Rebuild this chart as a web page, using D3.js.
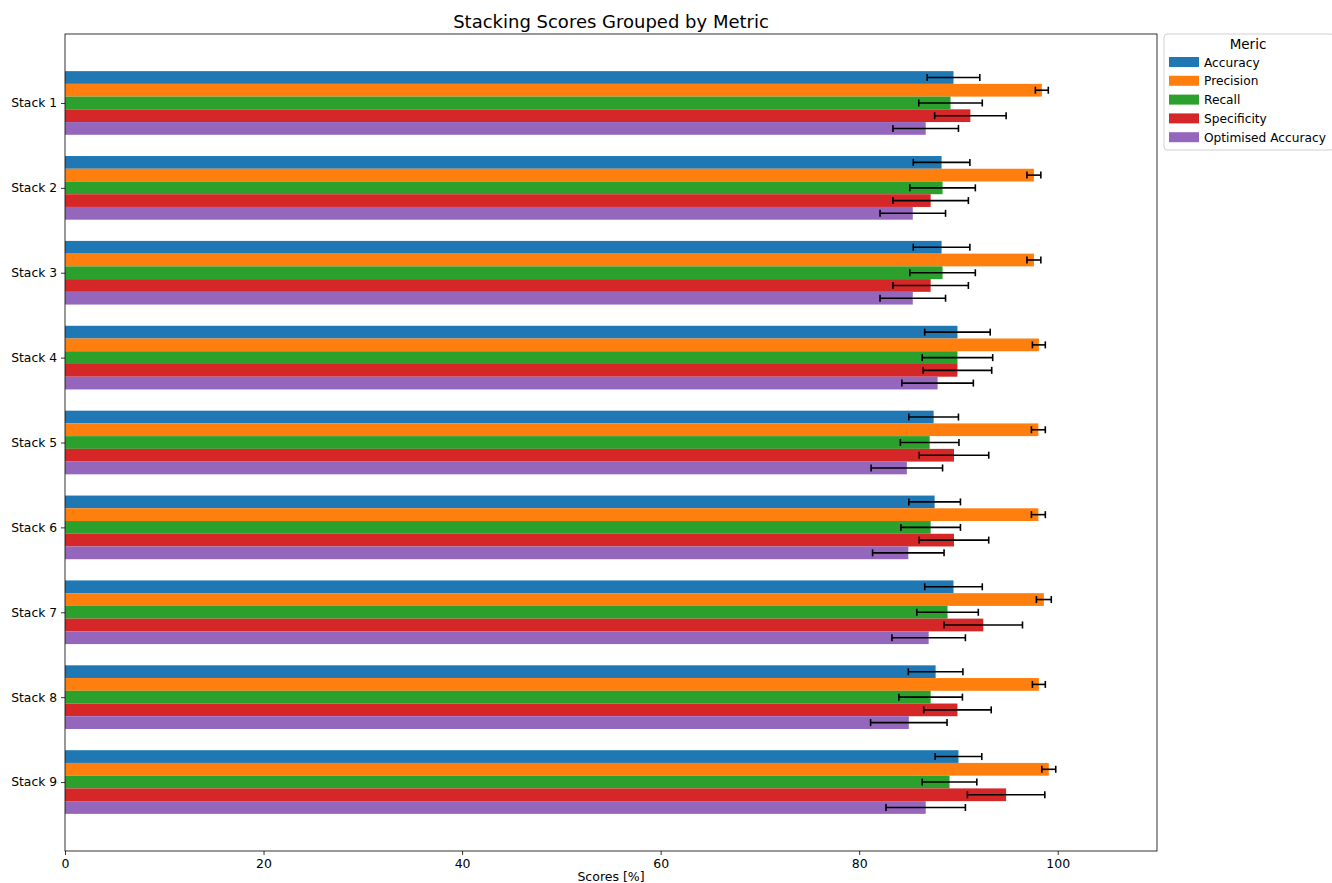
<!DOCTYPE html>
<html>
<head>
<meta charset="utf-8">
<script src="https://cdn.jsdelivr.net/npm/d3@7"></script>
<style>
  html, body { margin: 0; padding: 0; background: #fff; }
  svg { display: block; font-family: "DejaVu Sans", sans-serif; }
</style>
</head>
<body>
<svg id="chart" width="1332" height="883"></svg>
<script>
// Stacking model scores per metric (mean and standard deviation, in %)
const stacks = ["Stack 1", "Stack 2", "Stack 3", "Stack 4", "Stack 5", "Stack 6", "Stack 7", "Stack 8", "Stack 9"];
const metrics = ["Accuracy", "Precision", "Recall", "Specificity", "Optimised Accuracy"];
const colors = ["#1f77b4", "#ff7f0e", "#2ca02c", "#d62728", "#9467bd"];

const accuracy      = [89.5, 88.3, 88.3, 89.9, 87.5, 87.6, 89.5, 87.7, 90.0];
const precision     = [98.4, 97.6, 97.6, 98.1, 98.05, 98.05, 98.6, 98.1, 99.1];
const recall        = [89.2, 88.4, 88.4, 89.9, 87.1, 87.2, 88.9, 87.2, 89.1];
const specificity   = [91.2, 87.2, 87.2, 89.9, 89.55, 89.55, 92.5, 89.9, 94.8];
const optAccuracy   = [86.7, 85.4, 85.4, 87.9, 84.8, 84.95, 87.0, 85.0, 86.7];

const accuracyErr    = [2.65, 2.85, 2.85, 3.3, 2.5, 2.6, 2.9, 2.75, 2.35];
const precisionErr   = [0.65, 0.7, 0.7, 0.65, 0.7, 0.7, 0.75, 0.65, 0.7];
const recallErr      = [3.2, 3.3, 3.3, 3.55, 2.95, 3.0, 3.1, 3.2, 2.75];
const specificityErr = [3.6, 3.8, 3.8, 3.45, 3.5, 3.5, 3.95, 3.4, 3.9];
const optAccuracyErr = [3.3, 3.3, 3.3, 3.6, 3.6, 3.6, 3.7, 3.85, 4.0];

const xTicks = [0, 20, 40, 60, 80, 100];

const seriesValues = [accuracy, precision, recall, specificity, optAccuracy];
const seriesErrors = [accuracyErr, precisionErr, recallErr, specificityErr, optAccuracyErr];

const barH = 0.15; // bar thickness in category units

const rows = [];
metrics.forEach((m, j) => {
  stacks.forEach((s, i) => {
    rows.push({ metric: m, j, i, value: seriesValues[j][i], err: seriesErrors[j][i] });
  });
});

const svg = d3.select("#chart");
const margin = { left: 65, right: 1157, top: 34, bottom: 851 };

const x = d3.scaleLinear().domain([0, 110]).range([margin.left, margin.right]);
// Category positions 0..8 top to bottom, with padding like a default autoscaled axis
const yExtent = [-(2.5 * barH), stacks.length - 1 + 2.5 * barH];
const pad = (yExtent[1] - yExtent[0]) * 0.05;
const y = d3.scaleLinear().domain([yExtent[0] - pad, yExtent[1] + pad]).range([margin.top, margin.bottom]);

// Bars
svg.append("g").selectAll("rect").data(rows).join("rect")
  .attr("x", x(0))
  .attr("y", d => y(d.i + (d.j - 2.5) * barH))
  .attr("width", d => x(d.value) - x(0))
  .attr("height", d => y(barH) - y(0))
  .attr("fill", d => colors[d.j]);

// Error bars
const eg = svg.append("g").attr("stroke", "#000").attr("stroke-width", 1.6);
rows.forEach(d => {
  const cy = y(d.i + (d.j - 2) * barH);
  const x1 = x(d.value - d.err), x2 = x(d.value + d.err);
  eg.append("line").attr("x1", x1).attr("x2", x2).attr("y1", cy).attr("y2", cy);
  eg.append("line").attr("x1", x1).attr("x2", x1).attr("y1", cy - 3.5).attr("y2", cy + 3.5);
  eg.append("line").attr("x1", x2).attr("x2", x2).attr("y1", cy - 3.5).attr("y2", cy + 3.5);
});

// Frame
svg.append("rect")
  .attr("x", margin.left).attr("y", margin.top)
  .attr("width", margin.right - margin.left).attr("height", margin.bottom - margin.top)
  .attr("fill", "none").attr("stroke", "#000").attr("stroke-width", 0.8);

// X axis
const xAxis = d3.axisBottom(x).tickValues(xTicks).tickSize(4).tickPadding(4).tickFormat(d3.format("d"));
const gx = svg.append("g").attr("transform", `translate(0,${margin.bottom})`).call(xAxis);
gx.select(".domain").remove();
gx.selectAll("text").attr("font-size", 12.5).attr("font-family", "DejaVu Sans").attr("fill", "#000");
gx.selectAll("line").attr("stroke", "#000").attr("stroke-width", 0.8);

// Y axis
const yAxis = d3.axisLeft(y).tickValues(d3.range(stacks.length)).tickSize(4).tickPadding(4)
  .tickFormat(i => stacks[i]);
const gy = svg.append("g").attr("transform", `translate(${margin.left},0)`).call(yAxis);
gy.select(".domain").remove();
gy.selectAll("text").attr("font-size", 12.3).attr("font-family", "DejaVu Sans").attr("fill", "#000");
gy.selectAll("line").attr("stroke", "#000").attr("stroke-width", 0.8);

// Title and axis label
svg.append("text").attr("x", (margin.left + margin.right) / 2).attr("y", 28)
  .attr("text-anchor", "middle").attr("font-size", 18).text("Stacking Scores Grouped by Metric");
svg.append("text").attr("x", (margin.left + margin.right) / 2).attr("y", 881)
  .attr("text-anchor", "middle").attr("font-size", 12.5).text("Scores [%]");

// Legend
const lg = svg.append("g").attr("transform", "translate(1164,34)");
lg.append("rect").attr("x", 0).attr("y", 0).attr("width", 170).attr("height", 116)
  .attr("rx", 3).attr("fill", "#fff").attr("stroke", "#d0d0d0").attr("stroke-width", 1);
lg.append("text").attr("x", 84).attr("y", 15).attr("text-anchor", "middle")
  .attr("font-size", 13.5).text("Meric");
metrics.forEach((m, j) => {
  const yy = 28 + j * 18.8;
  lg.append("rect").attr("x", 5).attr("y", yy - 5).attr("width", 30).attr("height", 10).attr("fill", colors[j]);
  lg.append("text").attr("x", 40).attr("y", yy + 4.5).attr("font-size", 12.2).text(m);
});
</script>
</body>
</html>
